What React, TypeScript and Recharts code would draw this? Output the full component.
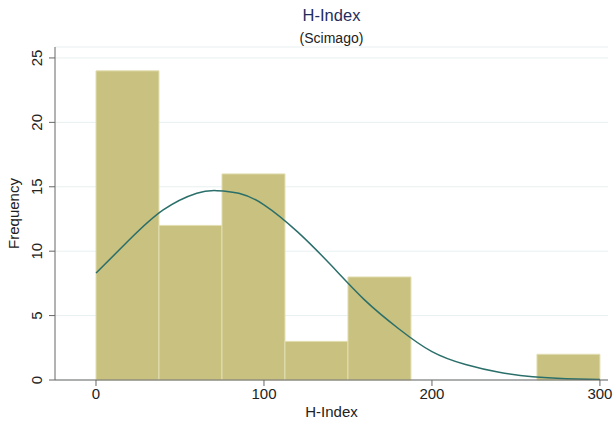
import {
  ComposedChart, Line, XAxis, YAxis, CartesianGrid, ReferenceArea,
} from 'recharts';

// histogram bins (H-Index), bin width 37.5
const binStart = [0, 37.5, 75, 112.5, 150, 187.5, 225, 262.5];
const binEnd = [37.5, 75, 112.5, 150, 187.5, 225, 262.5, 300];
const binCount = [24, 12, 16, 3, 8, 0, 0, 2];

// normal density overlay
const curveX = [0, 20, 40, 60, 72, 85, 100, 120, 140, 160, 180, 200, 220, 240, 260, 280, 300];
const curveY = [8.3, 10.9, 13.2, 14.5, 14.7, 14.5, 13.6, 11.5, 8.9, 6.2, 4.0, 2.2, 1.2, 0.6, 0.25, 0.1, 0.03];

const xTicks = [0, 100, 200, 300];
const yTicks = [0, 5, 10, 15, 20, 25];

const FONT = '"Liberation Sans", Arial, sans-serif';

const curveData = curveX.map((x, i) => ({ x, density: curveY[i] }));

function YTick({ x, y, payload }: { x?: number; y?: number; payload?: { value: number } }) {
  const tx = (x ?? 0) - 5;
  const ty = y ?? 0;
  return (
    <text
      x={tx}
      y={ty}
      transform={`rotate(-90, ${tx}, ${ty})`}
      textAnchor="middle"
      fontSize={15}
      fill="#222"
      fontFamily={FONT}
    >
      {payload?.value}
    </text>
  );
}

function YLabel({ viewBox }: { viewBox?: { x: number; y: number; width: number; height: number } }) {
  const cy = viewBox ? viewBox.y + viewBox.height / 2 : 213;
  const cx = 19;
  return (
    <text
      x={cx}
      y={cy}
      transform={`rotate(-90, ${cx}, ${cy})`}
      textAnchor="middle"
      fontSize={15}
      fill="#222"
      fontFamily={FONT}
    >
      Frequency
    </text>
  );
}

export default function App() {
  return (
    <div style={{ position: 'absolute', left: 0, top: 0, width: 614, height: 426, background: '#fff', fontFamily: FONT }}>
      <div style={{ position: 'absolute', top: 6, left: 55, width: 553, textAlign: 'center', fontSize: 16.5, color: '#1f2d5c' }}>
        H-Index
      </div>
      <div style={{ position: 'absolute', top: 30, left: 55, width: 553, textAlign: 'center', fontSize: 14, color: '#222' }}>
        (Scimago)
      </div>
      <ComposedChart
        width={614}
        height={426}
        data={curveData}
        margin={{ top: 47, right: 6, left: 0, bottom: 0 }}
      >
        <CartesianGrid vertical={false} stroke="#e8eff1" strokeWidth={1} />
        <XAxis
          type="number"
          dataKey="x"
          domain={[-24.4, 304.8]}
          ticks={xTicks}
          allowDataOverflow
          height={46}
          tickSize={6}
          stroke="#666"
          tick={{ fontSize: 15, fill: '#222', fontFamily: FONT }}
          label={{ value: 'H-Index', position: 'insideBottom', offset: 9, fontSize: 15, fill: '#222', fontFamily: FONT }}
        />
        <YAxis
          type="number"
          domain={[0, 25.85]}
          ticks={yTicks}
          allowDataOverflow
          width={55}
          tickSize={6}
          stroke="#666"
          tick={<YTick />}
          label={<YLabel />}
        />
        {binStart.map((lo, i) =>
          binCount[i] > 0 ? (
            <ReferenceArea
              key={lo}
              x1={lo}
              x2={binEnd[i]}
              y1={0}
              y2={binCount[i]}
              fill="#c8c17f"
              fillOpacity={1}
              stroke="#e3dfb3"
              strokeWidth={1}
              ifOverflow="visible"
            />
          ) : null,
        )}
        <Line
          type="natural"
          dataKey="density"
          stroke="#2b6f6a"
          strokeWidth={1.5}
          dot={false}
          activeDot={false}
          isAnimationActive={false}
        />
      </ComposedChart>
    </div>
  );
}
